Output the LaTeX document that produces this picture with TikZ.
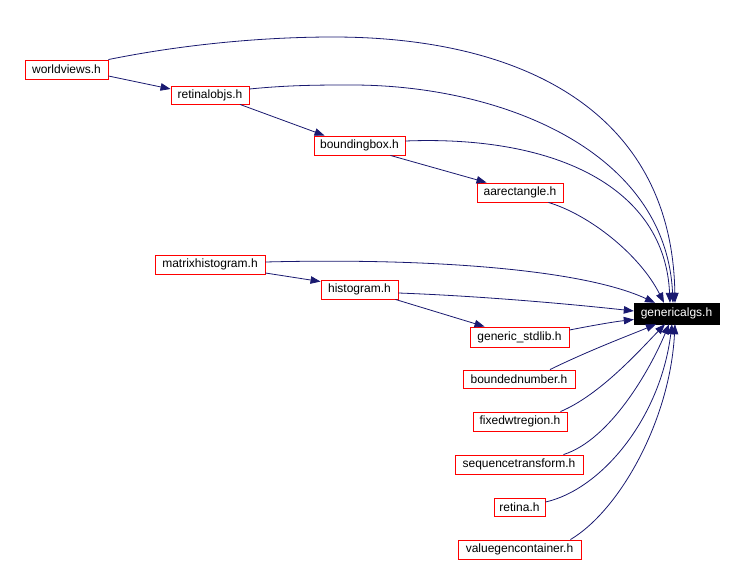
\documentclass[tikz,border=0pt]{standalone}
\usepackage{fontspec}
\setmainfont{Liberation Sans}
\usetikzlibrary{arrows.meta}
\definecolor{edgeblue}{HTML}{191970}
\begin{document}
\begin{tikzpicture}[x=1pt,y=-1pt,
  filebox/.style={draw=red,line width=0.9pt,fill=white,inner sep=0pt,minimum height=19pt,
    font=\fontsize{12}{14}\selectfont,text=black},
  mainbox/.style={draw=black,fill=black,inner sep=0pt,minimum height=21pt,
    font=\fontsize{12}{14}\selectfont,text=white},
  dep/.style={draw=edgeblue,line width=0.8pt,-{Triangle[length=10pt,width=7.5pt]}}]
\useasboundingbox[fill=white] (0,0) rectangle (745,562);

\node[filebox,minimum width=83pt] (wv) at (66.5,69.5) {worldviews.h};
\node[filebox,minimum width=78pt,minimum height=18pt] (ro) at (210,95) {retinalobjs.h};
\node[filebox,minimum width=91pt] (bb) at (359.5,145.5) {boundingbox.h};
\node[filebox,minimum width=86pt] (aa) at (520,192.5) {aarectangle.h};
\node[filebox,minimum width=110pt] (mh) at (210,264.5) {matrixhistogram.h};
\node[filebox,minimum width=77pt] (hi) at (359.5,289.5) {histogram.h};
\node[mainbox,minimum width=85pt] (ga) at (676.5,313.5) {genericalgs.h};
\node[filebox,minimum width=99pt,minimum height=20pt] (gs) at (519.5,337) {generic\_stdlib.h};
\node[filebox,minimum width=112pt,minimum height=18pt] (bn) at (519,379) {boundednumber.h};
\node[filebox,minimum width=94pt] (fw) at (520,421.5) {fixedwtregion.h};
\node[filebox,minimum width=128pt] (st) at (519,464.5) {sequencetransform.h};
\node[filebox,minimum width=51pt,minimum height=18pt] (re) at (519.5,507) {retina.h};
\node[filebox,minimum width=123pt] (vg) at (519.5,549.5) {valuegencontainer.h};

% worldviews
\draw[dep] ([shift={(0,6.5)}]wv.east) -- ([shift={(0,-6)}]ro.west);
\draw[dep] (wv.north east) .. controls (180,45) and (260,37) .. (333,37)
  .. controls (520,37) and (672,110) .. ([shift={(-1.5,0)}]ga.north);
% retinalobjs
\draw[dep] ([shift={(0,-6)}]ro.east) .. controls (290,85) and (320,85) .. (352,85)
  .. controls (500,85) and (666,150) .. ([shift={(-3.5,0)}]ga.north);
\draw[dep] ([shift={(30,0)}]ro.south) -- ([shift={(11,0)}]bb.north west);
% boundingbox
\draw[dep] ([shift={(0,-4.5)}]bb.east) .. controls (560,135) and (665,190) .. ([shift={(-6.5,0)}]ga.north);
\draw[dep] ([shift={(-15,0)}]bb.south east) -- ([shift={(10,0)}]aa.north west);
% aarectangle
\draw[dep] ([shift={(-15,0)}]aa.south east) .. controls (590,215) and (640,255) .. ([shift={(-12.5,0)}]ga.north);
% matrixhistogram
\draw[dep] ([shift={(0,8.5)}]mh.east) -- ([shift={(0,2)}]hi.north west);
\draw[dep] ([shift={(0,-2.5)}]mh.east) .. controls (420,258) and (580,268) .. ([shift={(-21.5,0)}]ga.north);
% histogram
\draw[dep] ([shift={(-3,0)}]hi.south east) -- ([shift={(15,0)}]gs.north west);
\draw[dep] ([shift={(0,3.5)}]hi.east) .. controls (480,296) and (570,304) .. ([shift={(0,-2.5)}]ga.west);
% generic_stdlib
\draw[dep] ([shift={(0,-7)}]gs.east) .. controls (590,326) and (612,322) .. ([shift={(0,6)}]ga.west);
% lower group
\draw[dep] ([shift={(31,0)}]bn.north) .. controls (590,350) and (630,335) .. ([shift={(-20.5,0)}]ga.south);
\draw[dep] ([shift={(-7,0)}]fw.north east) .. controls (600,395) and (640,350) .. ([shift={(-11.5,0)}]ga.south);
\draw[dep] ([shift={(-20,0)}]st.north east) .. controls (610,440) and (650,370) .. ([shift={(-7.5,0)}]ga.south);
\draw[dep] ([shift={(0,-5)}]re.east) .. controls (600,490) and (660,420) .. ([shift={(-4.5,0)}]ga.south);
\draw[dep] ([shift={(-11,0)}]vg.north east) .. controls (620,510) and (670,420) .. ([shift={(-1.5,0)}]ga.south);
\end{tikzpicture}
\end{document}
